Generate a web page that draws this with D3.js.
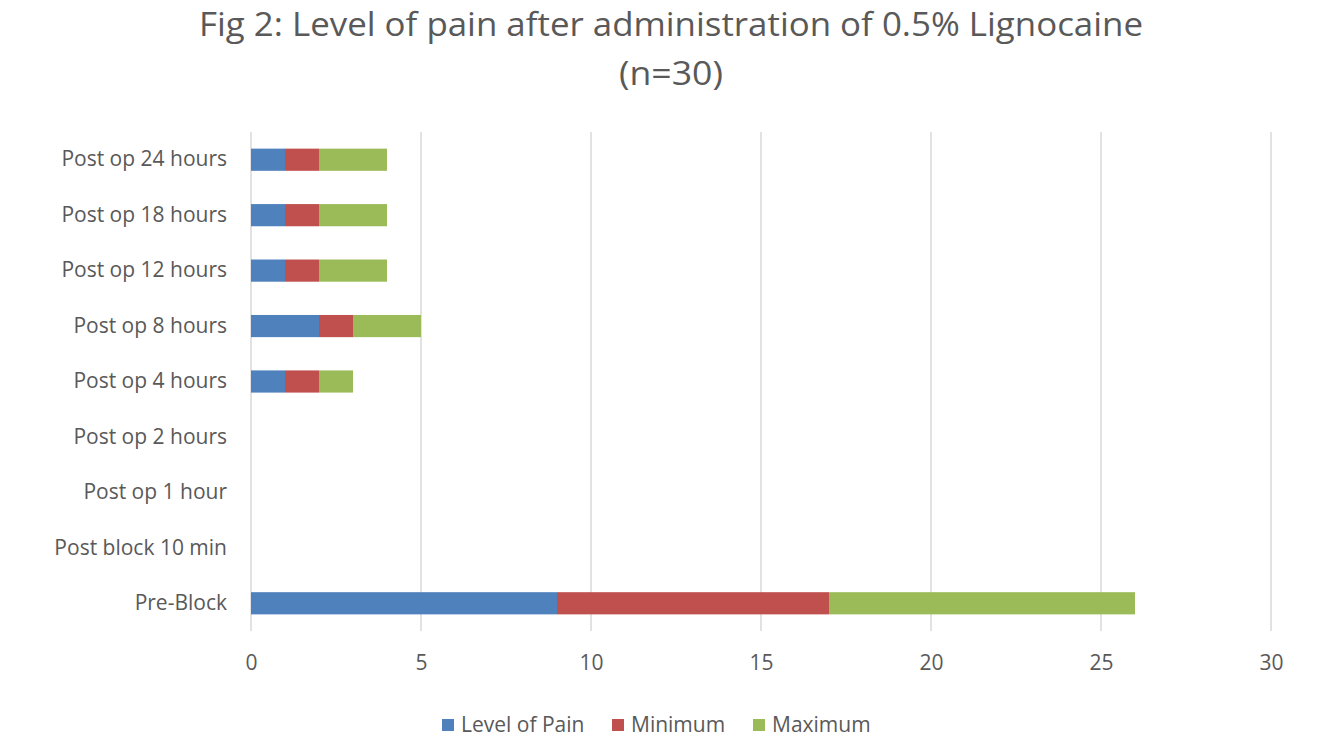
<!DOCTYPE html>
<meta charset="utf-8">
<script src="https://d3js.org/d3.v7.min.js"></script>
<style>
  body { margin: 0; background: #fff; }
  text { font-family: "Open Sans", "Liberation Sans", sans-serif; fill: #595959; }
</style>
<div id="chart"></div>
<script>
  // categories, bottom to top as in the picture
  var categories = ["Pre-Block", "Post block 10 min", "Post op 1 hour", "Post op 2 hours",
                    "Post op 4 hours", "Post op 8 hours", "Post op 12 hours", "Post op 18 hours", "Post op 24 hours"];
  var levelOfPain = [9, 0, 0, 0, 1, 2, 1, 1, 1];
  var minimum     = [8, 0, 0, 0, 1, 1, 1, 1, 1];
  var maximum     = [9, 0, 0, 0, 1, 2, 2, 2, 2];
  var seriesNames = ["Level of Pain", "Minimum", "Maximum"];
  var xTicks = [0, 5, 10, 15, 20, 25, 30];

  var colors = ["#4F81BD", "#C0504D", "#9BBB59"];

  var W = 1325, H = 749;
  var plot = {left: 251, right: 1271, top: 132, bottom: 631};

  var svg = d3.select("#chart").append("svg")
    .attr("width", W).attr("height", H);

  // title
  svg.append("text").attr("x", 671).attr("y", 36).attr("text-anchor", "middle")
    .style("font-size", "33px").attr("textLength", 944).attr("lengthAdjust", "spacingAndGlyphs")
    .text("Fig 2: Level of pain after administration of 0.5% Lignocaine");
  svg.append("text").attr("x", 671).attr("y", 85).attr("text-anchor", "middle")
    .style("font-size", "33px").attr("textLength", 104).attr("lengthAdjust", "spacingAndGlyphs")
    .text("(n=30)");

  var x = d3.scaleLinear().domain([0, 30]).range([plot.left, plot.right]);
  var y = d3.scaleBand().domain(categories.slice().reverse())
    .range([plot.top, plot.bottom]).paddingInner(0.6).paddingOuter(0.3);

  // gridlines
  svg.append("g").selectAll("line").data(xTicks).enter().append("line")
    .attr("x1", d => x(d)).attr("x2", d => x(d))
    .attr("y1", plot.top).attr("y2", plot.bottom)
    .attr("stroke", "#d9d9d9").attr("stroke-width", 1.5);

  // stacked data
  var rows = categories.map(function (c, i) {
    return { cat: c, "Level of Pain": levelOfPain[i], "Minimum": minimum[i], "Maximum": maximum[i] };
  });
  var stack = d3.stack().keys(seriesNames)(rows);

  svg.append("g").selectAll("g").data(stack).enter().append("g")
    .attr("fill", (d, i) => colors[i])
    .selectAll("rect").data(d => d).enter().append("rect")
      .attr("x", d => x(d[0]))
      .attr("width", d => x(d[1]) - x(d[0]))
      .attr("y", d => y(d.data.cat))
      .attr("height", y.bandwidth());

  // x axis labels
  var xAxis = svg.append("g").attr("transform", "translate(0,663)")
    .call(d3.axisBottom(x).tickValues(xTicks).tickSize(0).tickPadding(0));
  xAxis.select(".domain").remove();
  xAxis.selectAll("text").style("font-size", "21px").attr("y", 0).attr("dy", "0.35em");

  // y axis labels
  var yAxis = svg.append("g").attr("transform", "translate(227,0)")
    .call(d3.axisLeft(y).tickSize(0).tickPadding(0));
  yAxis.select(".domain").remove();
  yAxis.selectAll("text").style("font-size", "21px");

  // legend
  var legendX = [442, 612, 753];
  var legend = svg.append("g").selectAll("g").data(seriesNames).enter().append("g")
    .attr("transform", (d, i) => "translate(" + legendX[i] + ",725)");
  legend.append("rect").attr("x", 0).attr("y", -6).attr("width", 12).attr("height", 12)
    .attr("fill", (d, i) => colors[i]);
  legend.append("text").attr("x", 19).attr("dy", "0.35em")
    .style("font-size", "21px").text(d => d);
</script>
